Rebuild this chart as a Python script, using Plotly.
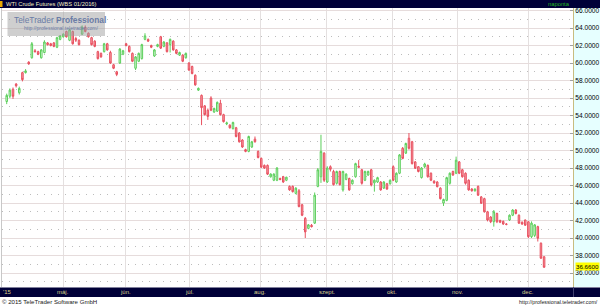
import plotly.graph_objects as go

W, H = 600, 306

# ---- data (daily candles, WTI Crude Futures 01/2016) ----
open_ = [55.6, 56.2, 57.0, 57.6, 56.6, 58.9, 58.9, 60.1, 60.6, 61.4,
         61.3, 60.6, 61.2, 62.3, 62.2, 62.3, 61.8, 62.7, 63.0, 63.6,
         62.6, 63.6, 62.8, 62.6, 63.3, 64.1, 63.4, 62.9, 62.5, 61.3,
         61.1, 61.3, 62.2, 61.2, 59.8, 59.0, 60.0, 61.0, 62.2, 61.9,
         61.1, 59.4, 60.2, 60.5, 62.7, 62.7, 62.0, 60.8, 61.9, 63.0,
         61.9, 62.3, 62.1, 62.5, 61.5, 60.9, 60.9, 60.6, 60.0, 59.6,
         58.6, 56.9, 56.3, 55.1, 54.6, 56.0, 54.4, 54.5, 55.4, 54.1,
         53.05, 52.9, 52.5, 52.6, 52.0, 51.2, 50.1, 49.9, 50.4, 51.3,
         49.9, 49.1, 48.3, 48.3, 47.0, 46.6, 46.6, 46.8, 47.0, 46.6,
         45.9, 45.9, 45.1, 45.4, 43.8, 42.25, 41.1, 41.45, 41.7, 45.9,
         47.0, 49.7, 46.4, 48.15, 47.6, 46.25, 47.6, 45.5, 46.7, 46.8,
         46.2, 47.0, 48.2, 47.8, 46.6, 47.2, 47.8, 46.3, 46.4, 46.4,
         45.7, 46.2, 46.2, 48.15, 46.4, 47.4, 50.25, 49.7, 51.4, 51.0,
         48.7, 48.15, 46.9, 48.15, 48.3, 47.4, 46.5, 46.4, 45.7, 44.0,
         44.3, 46.25, 47.6, 47.4, 48.7, 47.8, 47.4, 46.6, 45.6, 45.4,
         45.9, 44.7, 44.5, 43.0, 42.4, 41.86, 42.8, 42.0, 41.9, 41.6,
         42.06, 42.6, 43.2, 42.6, 41.8, 42.06, 41.86, 40.15, 40.3, 41.3,
         39.4, 37.86]
high_ = [56.5, 57.1, 57.2, 57.7, 57.3, 59.0, 59.3, 60.2, 62.4, 61.6,
         61.4, 61.6, 62.6, 62.4, 62.3, 62.4, 63.0, 63.2, 63.4, 63.7,
         63.9, 63.7, 63.0, 62.7, 64.3, 64.3, 63.5, 63.0, 62.6, 61.4,
         61.2, 62.3, 62.3, 61.4, 59.9, 59.1, 61.7, 61.5, 62.3, 62.0,
         61.2, 60.8, 61.2, 62.2, 63.4, 62.8, 62.1, 61.6, 62.2, 63.1,
         62.5, 62.4, 62.8, 62.6, 61.6, 61.3, 61.0, 61.2, 60.1, 59.7,
         58.7, 57.2, 56.4, 55.2, 54.8, 56.2, 54.9, 55.6, 55.8, 54.2,
         53.3, 53.0, 53.3, 52.7, 52.1, 51.3, 50.2, 51.7, 51.1, 51.6,
         50.0, 49.2, 48.4, 48.4, 47.4, 47.4, 48.1, 46.9, 47.1, 47.0,
         46.0, 46.0, 45.8, 45.6, 43.9, 42.4, 41.6, 41.6, 45.2, 48.0,
         51.8, 49.8, 48.2, 48.3, 47.8, 47.7, 47.7, 47.7, 47.4, 46.9,
         46.7, 48.6, 48.9, 47.9, 47.7, 47.7, 47.9, 46.7, 47.0, 46.5,
         46.5, 46.3, 46.7, 48.3, 47.5, 49.6, 50.4, 50.9, 52.0, 51.1,
         48.8, 48.2, 48.1, 48.6, 48.4, 47.5, 46.6, 46.5, 45.8, 44.5,
         47.0, 47.5, 47.7, 49.3, 48.8, 47.9, 47.5, 46.7, 45.7, 45.7,
         46.0, 44.8, 44.6, 43.1, 42.5, 43.2, 42.9, 42.1, 42.0, 41.7,
         42.7, 43.3, 43.3, 42.7, 41.9, 42.1, 41.9, 41.9, 41.6, 41.4,
         39.5, 37.9]
low_ = [55.3, 56.0, 55.9, 57.2, 56.4, 57.9, 58.8, 59.8, 60.5, 61.2,
        60.9, 60.5, 61.1, 62.0, 61.9, 61.8, 61.7, 62.6, 62.9, 62.9,
        62.5, 62.1, 62.4, 62.0, 63.2, 63.5, 62.9, 62.0, 61.8, 60.4,
        60.6, 61.2, 61.4, 59.9, 59.3, 58.5, 59.9, 60.9, 61.9, 61.2,
        60.1, 59.2, 60.1, 60.4, 62.6, 62.4, 61.7, 60.7, 61.8, 61.6,
        61.8, 61.2, 61.2, 61.4, 61.0, 60.8, 60.1, 60.5, 59.1, 58.7,
        57.4, 56.8, 52.9, 54.0, 53.5, 54.5, 54.3, 54.4, 54.0, 53.2,
        52.9, 52.5, 52.4, 51.5, 50.9, 50.3, 49.8, 49.8, 50.3, 50.9,
        49.1, 48.0, 47.9, 47.2, 46.9, 46.5, 46.5, 46.6, 46.3, 46.5,
        45.4, 45.2, 45.0, 43.5, 42.5, 40.0, 41.0, 41.2, 41.6, 45.8,
        46.3, 46.4, 46.3, 47.6, 46.0, 46.1, 46.0, 45.3, 46.6, 45.4,
        46.1, 46.9, 48.0, 46.1, 46.5, 47.1, 45.9, 45.3, 46.3, 45.4,
        45.6, 45.5, 46.1, 46.5, 46.3, 47.3, 49.0, 49.6, 50.1, 48.4,
        47.9, 47.5, 46.8, 48.0, 46.9, 46.5, 46.2, 45.8, 44.4, 43.66,
        44.2, 46.1, 47.1, 47.3, 47.3, 46.9, 46.1, 45.4, 45.3, 45.3,
        44.8, 43.9, 42.9, 41.9, 41.7, 41.3, 41.7, 41.7, 41.5, 41.45,
        41.95, 42.5, 42.7, 41.6, 41.5, 41.4, 40.0, 40.0, 40.1, 39.6,
        37.6, 36.6]
close_ = [56.3, 56.9, 56.2, 57.4, 57.1, 58.1, 59.1, 59.9, 62.2, 61.3,
          61.0, 61.5, 62.4, 62.1, 62.0, 61.9, 62.9, 63.1, 63.3, 63.0,
          63.8, 62.2, 62.6, 62.1, 64.1, 63.6, 63.0, 62.1, 61.9, 60.5,
          60.7, 62.2, 61.5, 60.0, 59.4, 58.7, 61.6, 61.4, 62.0, 61.3,
          60.2, 60.7, 61.1, 62.1, 63.1, 62.5, 61.8, 61.5, 62.1, 61.7,
          62.4, 61.3, 62.7, 61.5, 61.1, 61.2, 60.2, 61.1, 59.2, 58.8,
          57.5, 57.1, 54.9, 54.1, 53.9, 54.6, 54.8, 55.5, 54.1, 53.3,
          53.15, 52.6, 53.2, 51.6, 51.0, 50.4, 49.9, 51.6, 51.0, 51.0,
          49.2, 48.1, 48.0, 47.3, 47.3, 47.3, 48.0, 46.7, 46.4, 46.95,
          45.5, 45.3, 45.7, 43.6, 42.6, 40.7, 41.5, 41.3, 44.9, 47.8,
          49.9, 46.6, 48.0, 47.85, 46.1, 47.6, 46.1, 47.6, 47.3, 45.5,
          46.6, 48.5, 48.1, 46.25, 47.6, 47.6, 46.06, 46.6, 46.9, 45.5,
          46.4, 45.6, 46.6, 46.6, 47.4, 49.5, 49.1, 50.8, 50.25, 48.5,
          47.97, 47.6, 48.0, 48.46, 47.0, 46.6, 46.3, 45.86, 44.5, 44.4,
          46.9, 47.4, 47.2, 48.9, 47.4, 47.0, 46.25, 45.5, 45.4, 45.57,
          44.9, 43.97, 43.0, 42.06, 41.86, 43.0, 41.86, 41.8, 41.6, 41.56,
          42.6, 43.2, 42.8, 41.7, 41.6, 41.46, 40.15, 41.7, 41.5, 39.97,
          37.7, 36.66]

# month gridline positions (in candle-index units) and their labels
month_pos = [18.0, 37.65, 58.1, 80.6, 101.8, 122.7, 143.4, 166.0]
month_labels = ["máj.", "jún.", "júl.", "aug.", "szept.", "okt.", "nov.", "dec."]
y_major = [36, 38, 40, 42, 44, 46, 48, 50, 52, 54, 56, 58, 60, 62, 64, 66]
y_minor = [35, 37, 39, 41, 43, 45, 47, 49, 51, 53, 55, 57, 59, 61, 63, 65]
last_value = 36.66

title_text = "WTI Crude Futures (WBS 01/2016)"
period_text = "naponta"
year_label = "'15"
copyright_text = "© 2015 TeleTrader Software GmbH"
url_text = "http://professional.teletrader.com/"

assert len(open_) == len(high_) == len(low_) == len(close_)

FONT = "Liberation Sans"
NAVY = "#000038"


def px(p):
    return p / W


def py(p):
    return 1 - p / H


PLOT_L, PLOT_R, PLOT_T, PLOT_B = 2, 573, 8, 287

fig = go.Figure(go.Candlestick(
    x=list(range(len(open_))),
    open=open_, high=high_, low=low_, close=close_,
    increasing=dict(line=dict(color="#5ccf5c", width=1), fillcolor="#e2f8e2"),
    decreasing=dict(line=dict(color="#e8505f", width=1), fillcolor="#f6a0a8"),
    whiskerwidth=0,
    hoverinfo="skip",
))

shapes = [
    dict(type="rect", xref="paper", yref="paper", x0=px(PLOT_R), x1=1,
         y0=py(PLOT_B), y1=py(PLOT_T), fillcolor="#e6ffff", line_width=0, layer="below"),
    dict(type="rect", xref="paper", yref="paper", x0=0, x1=1,
         y0=py(PLOT_T), y1=1, fillcolor=NAVY, line_width=0),
    dict(type="rect", xref="paper", yref="paper", x0=0, x1=1,
         y0=py(297), y1=py(PLOT_B + 0.5), fillcolor=NAVY, line_width=0),
    dict(type="rect", xref="paper", yref="paper", x0=0, x1=px(2.5),
         y0=py(7), y1=py(1), fillcolor="#e8a800", line_width=0),
    dict(type="line", xref="paper", yref="paper", x0=px(1.5), x1=px(1.5),
         y0=py(PLOT_B), y1=py(PLOT_T), line=dict(color="#c8c8c8", width=1)),
    dict(type="line", xref="paper", yref="paper", x0=px(PLOT_R + 0.5), x1=px(PLOT_R + 0.5),
         y0=py(297), y1=py(PLOT_B), line=dict(color="#404070", width=1)),
    dict(type="rect", xref="paper", yref="paper", x0=px(7.5), x1=px(105),
         y0=py(36), y1=py(12), fillcolor="rgba(160,160,160,0.5)", line_width=0, layer="above"),
]

ann = [
    dict(x=px(4), y=py(4), text=title_text, xanchor="left",
         font=dict(size=5.8, color="#f0f0c0")),
    dict(x=px(572), y=py(4), text=period_text, xanchor="right",
         font=dict(size=5.8, color="#22bb22")),
    dict(x=px(12), y=py(19.5), text="TeleTrader <b>Professional</b>", xanchor="left",
         font=dict(size=8.4, color="#6a7ca6")),
    dict(x=px(22), y=py(27.5), text=url_text, xanchor="left",
         font=dict(size=5, color="#6a7ca6")),
    dict(x=px(1), y=py(292), text=year_label, xanchor="left",
         font=dict(size=6, color="#d8d088")),
    dict(x=0, y=py(301.5), text=copyright_text, xanchor="left",
         font=dict(size=6.1, color="#202020")),
    dict(x=1, y=py(301.5), text=url_text, xanchor="right",
         font=dict(size=5.3, color="#202020")),
    dict(x=px(575), xref="paper", y=last_value, yref="y", yshift=1,
         text=f"{last_value:.4f}",
         xanchor="left", bgcolor="#ffff00", borderpad=0,
         font=dict(size=6.2, color="#000000")),
]
for pos, lab in zip(month_pos, month_labels):
    ann.append(dict(x=pos, xref="x", y=py(292), yref="paper", text=lab,
                    xanchor="center", font=dict(size=6, color="#d8d088")))
for a in ann:
    a.setdefault("xref", "paper")
    a.setdefault("yref", "paper")
    a.setdefault("yanchor", "middle")
    a["showarrow"] = False
    a["font"]["family"] = FONT

fig.update_layout(
    width=W, height=H,
    margin=dict(l=0, r=0, t=0, b=0),
    paper_bgcolor="white", plot_bgcolor="white",
    showlegend=False, hovermode=False,
    font=dict(family=FONT),
    shapes=shapes, annotations=ann,
    xaxis=dict(
        domain=[px(PLOT_L), px(PLOT_R)], range=[-1.5, 180.2],
        rangeslider=dict(visible=False),
        tickmode="array", tickvals=month_pos, showticklabels=False, ticks="",
        showgrid=True, gridcolor="#e4e0e0", gridwidth=1, zeroline=False,
    ),
    yaxis=dict(
        domain=[py(PLOT_B), py(PLOT_T)], range=[34.40, 66.286],
        side="right", tickmode="array", tickvals=y_major, tickformat=".4f",
        tickfont=dict(size=6.6, color="#000000", family=FONT),
        ticks="inside", ticklen=3, tickcolor="#a0a0a0",
        showline=True, linecolor="#c8bc80", linewidth=1,
        showgrid=True, gridcolor="#e6dcdc", gridwidth=1, zeroline=False,
        minor=dict(tickmode="array", tickvals=y_minor, showgrid=True,
                   gridcolor="#bcbcbc", griddash="1px,6px", gridwidth=1, ticks=""),
    ),
)

fig.write_html("out.html")
